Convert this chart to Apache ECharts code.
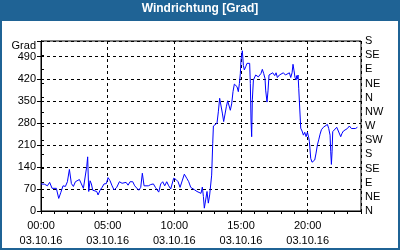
<!DOCTYPE html>
<html><head><meta charset="utf-8">
<script src="https://cdn.jsdelivr.net/npm/echarts@6/dist/echarts.min.js"></script>
<style>html,body{margin:0;padding:0;background:#fff}#c{width:400px;height:250px}</style>
</head><body><div id="c"></div>
<script>
const titleText = 'Windrichtung [Grad]';
const yUnit = 'Grad';
const dateLabel = '03.10.16';
const compass = ['N','NE','E','SE','S','SW','W','NW','N','NE','E','SE','S'];
const hours = [0,0.27,0.48,0.65,0.83,0.98,1.15,1.33,1.48,1.65,1.83,1.98,2.13,2.28,2.43,2.58,2.73,2.88,3.03,3.18,3.33,3.43,3.5,3.58,3.68,3.78,3.88,4.03,4.18,4.28,4.43,4.58,4.73,4.9,5.03,5.18,5.33,5.48,5.68,5.88,
6.08,6.23,6.38,6.53,6.68,6.88,7.03,7.18,7.33,7.48,7.6,7.73,7.88,8.05,8.23,8.43,8.58,8.73,8.83,8.98,9.13,9.28,9.43,9.58,9.73,9.88,9.95,10.13,10.28,10.43,10.58,10.75,10.93,11.08,11.23,11.38,11.53,11.7,11.85,12.0,12.1,12.18,12.25,12.35,12.45,12.55,12.65,12.75,12.8,12.88,12.93,13.05,13.2,13.3,13.4,13.5,13.6,13.7,13.8,13.9,14.0,14.1,14.2,14.3,14.4,14.5,14.6,14.7,14.8,14.88,14.95,15.0,15.1,15.18,15.25,15.35,15.45,15.55,15.65,15.7,15.75,15.8,15.85,15.93,16.0,16.1,16.2,16.3,16.4,16.5,16.6,16.7,16.8,16.85,16.95,17.03,17.1,
17.18,17.38,17.53,17.63,17.73,17.88,18.03,18.18,18.33,18.48,18.63,18.73,18.83,18.9,18.98,19.05,19.13,19.18,19.23,19.28,19.33,19.43,19.48,19.58,19.68,19.78,19.88,19.98,20.08,20.13,20.23,20.33,20.43,20.53,20.63,20.73,20.83,20.93,21.03,21.18,21.33,21.48,21.58,21.68,21.73,21.78,21.83,21.88,22.03,22.18,22.33,22.48,22.58,22.68,22.83,22.98,23.13,23.28,23.43,23.58,23.73];
const degrees = [86,85,80,91,72,66,72,40,58,80,78,93,132,87,78,93,87,100,86,72,67,141,172,62,96,86,66,72,62,51,66,75,86,87,106,96,80,67,75,93,
88,86,91,82,93,93,80,75,66,75,120,80,86,80,84,86,75,70,60,86,93,80,93,80,70,75,104,100,93,75,70,117,104,93,75,74,67,62,65,56,76,46,9,35,62,25,51,56,114,215,270,273,279,315,358,353,311,284,289,331,350,346,320,340,379,403,405,395,379,405,437,480,509,462,448,458,469,473,469,405,289,236,353,416,421,432,437,426,424,437,450,437,421,384,346,384,432,
434,439,430,439,424,432,434,439,432,434,439,424,439,466,445,424,416,430,420,432,390,305,263,254,241,250,236,250,233,220,167,155,152,162,184,210,226,244,258,266,270,275,262,241,188,148,188,252,254,266,262,236,247,254,258,262,270,262,264,262,266];

const blue = '#1f6395';
const font = 'Liberation Sans';
const series = hours.map((h, i) => [h, degrees[i]]);
const pad = n => (n < 10 ? '0' : '') + n;

const chart = echarts.init(document.getElementById('c'), null, {renderer: 'canvas'});
chart.setOption({
  animation: false,
  backgroundColor: '#fff',
  graphic: [
    {type: 'rect', left: 0, top: 0, shape: {width: 400, height: 250}, style: {fill: blue}, z: -10, silent: true},
    {type: 'rect', left: 2, top: 21, shape: {width: 396, height: 227}, style: {fill: '#fff'}, z: -9, silent: true}
  ],
  title: {
    text: titleText, left: 'center', top: 3, padding: 0,
    textStyle: {color: '#fff', fontFamily: font, fontWeight: 'bold', fontSize: 12}
  },
  grid: {left: 41, right: 39, top: 41, bottom: 39, show: true, borderColor: '#000', borderWidth: 1, backgroundColor: '#fff'},
  xAxis: [
    {
      type: 'value', min: 0, max: 24, interval: 5, position: 'bottom',
      axisLine: {show: true, lineStyle: {color: '#000', width: 1}},
      axisTick: {show: false},
      splitLine: {show: true, lineStyle: {color: '#000', type: [3, 3], width: 1}},
      axisLabel: {
        color: '#000', fontFamily: font, fontSize: 11, lineHeight: 15, margin: 7,
        formatter: v => v >= 24 ? '' : pad(v) + ':00\n' + dateLabel
      }
    },
    {
      type: 'value', min: 0, max: 24, interval: 1, position: 'bottom',
      axisLine: {show: false},
      axisTick: {show: true, length: 3, inside: false, lineStyle: {color: '#000'}},
      splitLine: {show: false},
      axisLabel: {show: false}
    }
  ],
  yAxis: [
    {
      type: 'value', min: 0, max: 540, interval: 70, position: 'left',
      name: yUnit, nameLocation: 'end', nameGap: -5,
      nameTextStyle: {color: '#000', fontFamily: font, fontSize: 11, align: 'right', verticalAlign: 'middle', padding: [0, 5, 0, 0]},
      axisLine: {show: true, lineStyle: {color: '#000', width: 1}},
      axisTick: {show: true, length: 4, lineStyle: {color: '#000'}},
      splitLine: {show: true, lineStyle: {color: '#000', type: [3, 3], width: 1}},
      axisLabel: {
        color: '#000', fontFamily: font, fontSize: 11, margin: 5,
        formatter: v => v >= 540 ? '' : String(v)
      }
    },
    {
      type: 'value', min: 0, max: 540, interval: 45, position: 'right',
      axisLine: {show: true, lineStyle: {color: '#000', width: 1}},
      axisTick: {show: true, length: 3, lineStyle: {color: '#000'}},
      splitLine: {show: false},
      axisLabel: {
        color: '#000', fontFamily: font, fontSize: 11, margin: 4,
        formatter: v => compass[Math.round(v / 45)] || ''
      }
    }
  ],
  series: [{
    type: 'line', data: series, xAxisIndex: 0, yAxisIndex: 0,
    showSymbol: false, symbol: 'none',
    lineStyle: {color: '#0000ff', width: 1}, itemStyle: {color: '#0000ff'}
  }]
});
</script></body></html>
